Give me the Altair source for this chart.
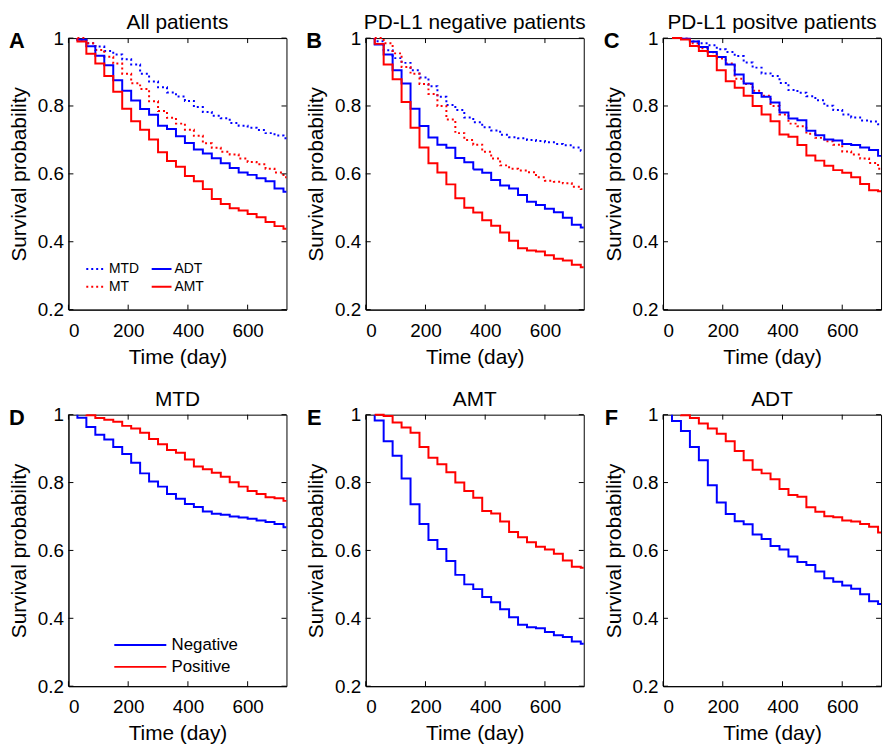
import altair as alt
import pandas as pd

# ---------------- data ----------------
DAYS = [30, 60, 90, 120, 150, 180, 210, 240, 270, 300, 330, 360,
        390, 420, 450, 480, 510, 540, 570, 600, 630, 660, 690, 720]
X_MAX = 730
X_TICKS = [0, 200, 400, 600]
Y_TICKS = [0.2, 0.4, 0.6, 0.8, 1.0]

# All patients
MTD_ALL = [0.995, 0.985, 0.975, 0.962, 0.952, 0.938, 0.922, 0.895, 0.872, 0.855, 0.840, 0.828,
           0.815, 0.797, 0.782, 0.771, 0.764, 0.750, 0.742, 0.736, 0.729, 0.720, 0.713, 0.705]
MT_ALL = [1.0, 0.985, 0.965, 0.945, 0.925, 0.895, 0.867, 0.850, 0.814, 0.785, 0.765, 0.748,
          0.730, 0.712, 0.690, 0.677, 0.665, 0.657, 0.645, 0.635, 0.628, 0.615, 0.604, 0.590]
ADT_ALL = [0.995, 0.976, 0.948, 0.920, 0.876, 0.845, 0.816, 0.791, 0.774, 0.742, 0.732, 0.711,
           0.691, 0.672, 0.660, 0.646, 0.631, 0.617, 0.604, 0.597, 0.587, 0.578, 0.557, 0.547]
AMT_ALL = [0.990, 0.954, 0.925, 0.888, 0.842, 0.792, 0.755, 0.730, 0.701, 0.664, 0.638, 0.621,
           0.594, 0.578, 0.555, 0.526, 0.511, 0.499, 0.492, 0.482, 0.472, 0.458, 0.446, 0.438]

# PD-L1 negative patients
MTD_NEG = [0.991, 0.964, 0.941, 0.927, 0.905, 0.884, 0.858, 0.827, 0.803, 0.788, 0.766, 0.752,
           0.737, 0.728, 0.715, 0.708, 0.705, 0.700, 0.697, 0.693, 0.688, 0.684, 0.678, 0.668]
MT_NEG = [1.0, 0.985, 0.955, 0.915, 0.895, 0.865, 0.835, 0.800, 0.760, 0.720, 0.700, 0.686,
          0.665, 0.645, 0.625, 0.615, 0.610, 0.605, 0.590, 0.580, 0.577, 0.572, 0.562, 0.555]
ADT_NEG = [0.981, 0.952, 0.905, 0.866, 0.792, 0.741, 0.707, 0.686, 0.677, 0.647, 0.634, 0.613,
           0.603, 0.582, 0.566, 0.557, 0.538, 0.518, 0.508, 0.497, 0.487, 0.471, 0.450, 0.442]
AMT_NEG = [0.983, 0.922, 0.879, 0.812, 0.736, 0.678, 0.631, 0.604, 0.569, 0.528, 0.500, 0.486,
           0.463, 0.447, 0.427, 0.403, 0.381, 0.374, 0.371, 0.360, 0.350, 0.345, 0.332, 0.325]

# PD-L1 positive patients (None = curve not started yet)
MTD_POS = [None, 0.998, 0.990, 0.985, 0.979, 0.967, 0.959, 0.947, 0.928, 0.913, 0.896, 0.888,
           0.868, 0.847, 0.839, 0.829, 0.817, 0.801, 0.788, 0.775, 0.766, 0.757, 0.754, 0.746]
MT_POS = [1.0, 0.998, 0.985, 0.970, 0.958, 0.940, 0.925, 0.880, 0.865, 0.845, 0.830, 0.800,
          0.775, 0.748, 0.740, 0.718, 0.706, 0.696, 0.686, 0.666, 0.657, 0.645, 0.632, 0.615]
ADT_POS = [None, 0.998, 0.990, 0.974, 0.959, 0.944, 0.922, 0.893, 0.866, 0.838, 0.827, 0.810,
           0.781, 0.763, 0.758, 0.727, 0.714, 0.701, 0.698, 0.688, 0.685, 0.678, 0.670, 0.653]
AMT_POS = [1.0, 0.996, 0.977, 0.962, 0.947, 0.905, 0.873, 0.854, 0.830, 0.800, 0.775, 0.755,
           0.716, 0.709, 0.685, 0.654, 0.639, 0.624, 0.611, 0.603, 0.590, 0.570, 0.552, 0.549]

TREAT_ORDER = ["MTD", "MT", "ADT", "AMT"]
TREAT_COLORS = ["#0000ff", "#ff0000", "#0000ff", "#ff0000"]
TREAT_DASH = [[2, 3], [2, 3], [1, 0], [1, 0]]
PDL1_ORDER = ["Negative", "Positive"]
PDL1_COLORS = ["#0000ff", "#ff0000"]

W, H = 220, 274
FONT = "Liberation Sans"


def curve_df(curves):
    rows = []
    idx = 0
    for name, vals in curves:
        first = next(i for i, v in enumerate(vals) if v is not None)
        pts = [(DAYS[first], 1.0)]
        pts += [(t, v) for t, v in zip(DAYS, vals) if v is not None]
        pts.append((X_MAX, vals[-1]))
        for t, v in pts:
            rows.append({"day": t, "surv": v, "series": name, "idx": idx})
            idx += 1
    return pd.DataFrame(rows)


xscale = alt.Scale(domain=[0, X_MAX], nice=False, zero=False)
yscale = alt.Scale(domain=[0.2, 1.0], nice=False, zero=False)


def panel(curves, title, letter, order, colors, dashes=None, legend=None):
    df = curve_df(curves)
    enc = dict(
        x=alt.X("day:Q", scale=xscale,
                axis=alt.Axis(values=X_TICKS, title="Time (day)", format="d")),
        y=alt.Y("surv:Q", scale=yscale,
                axis=alt.Axis(values=Y_TICKS, title="Survival probability", format="~g")),
        color=alt.Color("series:N", scale=alt.Scale(domain=order, range=colors), legend=legend),
        order=alt.Order("idx:Q"),
    )
    if dashes is not None:
        enc["strokeDash"] = alt.StrokeDash("series:N", scale=alt.Scale(domain=order, range=dashes),
                                           legend=legend)
    lines = alt.Chart(df).mark_line(interpolate="step-after", strokeWidth=2).encode(**enc)

    ydf = pd.DataFrame({"surv": Y_TICKS})
    xdf = pd.DataFrame({"day": X_TICKS})
    tl = alt.Chart(ydf).mark_rule(color="black", strokeWidth=1).encode(
        y=alt.Y("surv:Q", scale=yscale), x=alt.value(0), x2=alt.value(5))
    tr = alt.Chart(ydf).mark_rule(color="black", strokeWidth=1).encode(
        y=alt.Y("surv:Q", scale=yscale), x=alt.value(W - 5), x2=alt.value(W))
    tb = alt.Chart(xdf).mark_rule(color="black", strokeWidth=1).encode(
        x=alt.X("day:Q", scale=xscale), y=alt.value(H - 5), y2=alt.value(H))
    tt = alt.Chart(xdf).mark_rule(color="black", strokeWidth=1).encode(
        x=alt.X("day:Q", scale=xscale), y=alt.value(0), y2=alt.value(5))

    let = alt.Chart(pd.DataFrame({"t": [letter]})).mark_text(
        font=FONT, fontWeight="bold", fontSize=22, align="center", baseline="middle",
        color="black").encode(text="t:N", x=alt.value(-52), y=alt.value(3))

    return alt.layer(lines, tl, tr, tb, tt, let).properties(
        width=W, height=H,
        title=alt.TitleParams(title, fontSize=21, font=FONT, fontWeight="normal",
                              offset=-4, anchor="middle", color="black"))


leg_a = alt.Legend(orient="none", legendX=17, legendY=222, columns=2, title=None,
                   symbolType="stroke", symbolSize=400, symbolStrokeWidth=2,
                   labelFont=FONT, labelFontSize=14, labelColor="black", labelOffset=2,
                   columnPadding=8, rowPadding=0, padding=0)
leg_d = alt.Legend(orient="none", legendX=61, legendY=221, title=None,
                   symbolType="M-2.5,0H2.5", symbolSize=441, symbolStrokeWidth=2,
                   labelFont=FONT, labelFontSize=17, labelColor="black",
                   labelOffset=20, rowPadding=2, padding=0)

pA = panel([("MTD", MTD_ALL), ("MT", MT_ALL), ("ADT", ADT_ALL), ("AMT", AMT_ALL)],
           "All patients", "A", TREAT_ORDER, TREAT_COLORS, TREAT_DASH, leg_a)
pB = panel([("MTD", MTD_NEG), ("MT", MT_NEG), ("ADT", ADT_NEG), ("AMT", AMT_NEG)],
           "PD-L1 negative patients", "B", TREAT_ORDER, TREAT_COLORS, TREAT_DASH)
pC = panel([("MTD", MTD_POS), ("MT", MT_POS), ("ADT", ADT_POS), ("AMT", AMT_POS)],
           "PD-L1 positve patients", "C", TREAT_ORDER, TREAT_COLORS, TREAT_DASH)
pD = panel([("Negative", MTD_NEG), ("Positive", MTD_POS)], "MTD", "D",
           PDL1_ORDER, PDL1_COLORS, None, leg_d)
pE = panel([("Negative", AMT_NEG), ("Positive", AMT_POS)], "AMT", "E",
           PDL1_ORDER, PDL1_COLORS)
pF = panel([("Negative", ADT_NEG), ("Positive", ADT_POS)], "ADT", "F",
           PDL1_ORDER, PDL1_COLORS)

chart = alt.concat(pA, pB, pC, pD, pE, pF, columns=3,
                   spacing={"row": 106, "column": 80}, bounds="flush").resolve_scale(
    color="independent", strokeDash="independent"
).properties(padding=0, background="white").configure_view(
    stroke="black", strokeWidth=1
).configure_axis(
    grid=False, ticks=False, tickSize=0, domainColor="black", domainWidth=1,
    labelFont=FONT, labelFontSize=19, labelColor="black", labelPadding=5,
    titleFont=FONT, titleFontSize=21, titleFontWeight="normal", titleColor="black",
).configure_axisX(labelPadding=12, titlePadding=6).configure_axisY(titlePadding=8)

chart.save("out.html", embed_options={"renderer": "svg", "actions": False})
